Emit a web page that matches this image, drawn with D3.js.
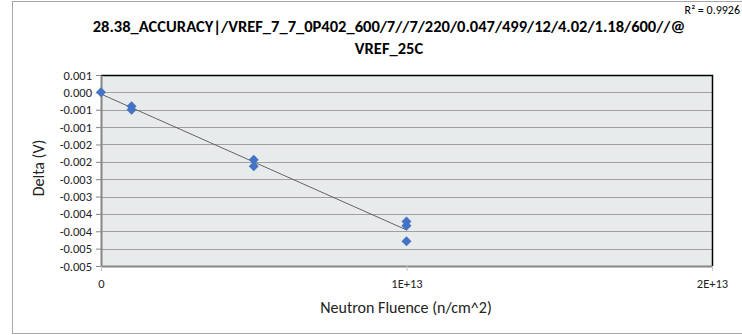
<!DOCTYPE html>
<html><head><meta charset="utf-8">
<script src="https://cdn.jsdelivr.net/npm/d3@7"></script>
<style>
html,body{margin:0;padding:0;background:#fff;}
svg{display:block;font-family:Carlito,Calibri,Lato,"Open Sans",sans-serif;}
</style></head>
<body><svg id="c" width="742" height="335"></svg>
<script>
const titleLines = ["28.38_ACCURACY|/VREF_7_7_0P402_600/7//7/220/0.047/499/12/4.02/1.18/600//@", "VREF_25C"];
const xLabel = "Neutron Fluence (n/cm^2)";
const yLabel = "Delta (V)";
const r2Label = "R² = 0.9926";
const fluence = [0, 1e12, 1e12, 5e12, 5e12, 1e13, 1e13, 1e13];
const delta = [0, -0.00040, -0.00050, -0.00194, -0.00213, -0.00372, -0.00384, -0.00429];
const xTicks = [0, 1e13, 2e13];
const xTickLabels = ["0", "1E+13", "2E+13"];
const yTicks = [0.0005, 0, -0.0005, -0.001, -0.0015, -0.002, -0.0025, -0.003, -0.0035, -0.004, -0.0045, -0.005];
const yTickLabels = ["0.001","0.000","-0.001","-0.001","-0.002","-0.002","-0.003","-0.003","-0.004","-0.004","-0.005","-0.005"];

const svg = d3.select("#c");
const m = {l:101, r:712, t:75, b:266};
const x = d3.scaleLinear().domain([0, 2e13]).range([m.l, m.r]);
const y = d3.scaleLinear().domain([0.0005, -0.005]).range([m.t, m.b]);

// outer frame
svg.append("rect").attr("x",12.5).attr("y",1.5).attr("width",740).attr("height",332)
  .attr("fill","#fff").attr("stroke","#a6a6a6").attr("stroke-width",1);

// plot bg
svg.append("rect").attr("x",m.l).attr("y",m.t).attr("width",m.r-m.l).attr("height",m.b-m.t)
  .attr("fill","#e7ebeb");

// gridlines
svg.append("g").selectAll("line").data(yTicks.slice(1)).join("line")
  .attr("x1",m.l).attr("x2",m.r).attr("y1",d=>Math.round(y(d))+0.5).attr("y2",d=>Math.round(y(d))+0.5)
  .attr("stroke","#a0a0a0").attr("stroke-width",1.2);

// top & right border black
svg.append("path").attr("d",`M${m.l},${m.t+0.5}H${m.r+0.5}V${m.b}`)
  .attr("fill","none").attr("stroke","#000").attr("stroke-width",1.5);

// y axis
const yAxis = d3.axisLeft(y).tickValues(yTicks).tickFormat((d,i)=>yTickLabels[i]).tickSize(5).tickSizeOuter(0);
const gy = svg.append("g").attr("transform",`translate(${m.l},0)`).call(yAxis);
gy.select(".domain").attr("stroke","#868686").attr("stroke-width",2);
gy.selectAll(".tick line").attr("stroke","#868686");
gy.selectAll(".tick text").attr("font-size",12.5).attr("fill","#222").attr("x",-9)
  .attr("font-family","Carlito,Calibri,Lato,sans-serif");

// x axis
const xAxis = d3.axisBottom(x).tickValues(xTicks).tickFormat((d,i)=>xTickLabels[i]).tickSize(5).tickSizeOuter(0);
const gx = svg.append("g").attr("transform",`translate(0,${m.b})`).call(xAxis);
gx.select(".domain").attr("stroke","#868686").attr("stroke-width",2);
gx.selectAll(".tick line").attr("stroke","#c8c8c8");
gx.selectAll(".tick text").attr("font-size",12.5).attr("fill","#222").attr("y",13)
  .attr("font-family","Carlito,Calibri,Lato,sans-serif");

// trendline (least squares)
const n = fluence.length;
const mx = d3.mean(fluence), my = d3.mean(delta);
let sxy=0, sxx=0;
for(let i=0;i<n;i++){sxy+=(fluence[i]-mx)*(delta[i]-my); sxx+=(fluence[i]-mx)**2;}
const slope = sxy/sxx, icpt = my - slope*mx;
const [x0,x1] = d3.extent(fluence);
svg.append("line").attr("x1",x(x0)).attr("y1",y(icpt+slope*x0)).attr("x2",x(x1)).attr("y2",y(icpt+slope*x1))
  .attr("stroke","#555").attr("stroke-width",0.9);

// points
const sym = d3.symbol().type(d3.symbolDiamond2).size(64);
svg.append("g").selectAll("path").data(fluence.map((f,i)=>[f,delta[i]])).join("path")
  .attr("d",sym).attr("transform",d=>`translate(${x(d[0])},${y(d[1])})`)
  .attr("fill","#4472c4");

// title
const t = svg.append("text").attr("text-anchor","middle").attr("font-weight","bold")
  .attr("font-size",16.5).attr("fill","#000");
t.append("tspan").attr("x",389).attr("y",31.5).text(titleLines[0]);
t.append("tspan").attr("x",389).attr("y",54).text(titleLines[1]);

// R2
svg.append("text").attr("x",740).attr("y",14).attr("text-anchor","end").attr("font-size",12).attr("fill","#000").text(r2Label);

// axis labels
svg.append("text").attr("x",406).attr("y",313).attr("text-anchor","middle").attr("font-size",16)
  .attr("fill","#222").text(xLabel);
svg.append("text").attr("transform","translate(44,168) rotate(-90)").attr("text-anchor","middle")
  .attr("font-size",16).attr("fill","#222").text(yLabel);
</script></body></html>
